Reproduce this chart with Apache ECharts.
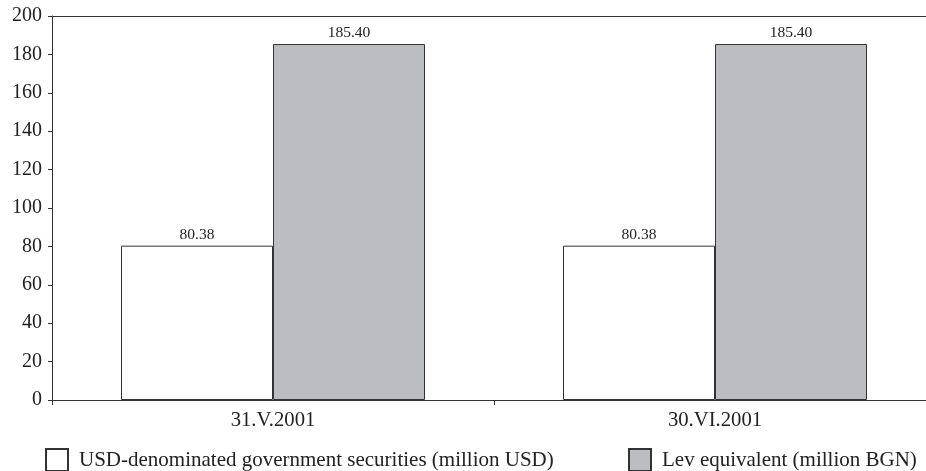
<!DOCTYPE html>
<html><head><meta charset="utf-8">
<script src="https://cdn.jsdelivr.net/npm/echarts@6/dist/echarts.min.js"></script>
<style>html,body{margin:0;padding:0;background:#fff;overflow:hidden}#c{width:1000px;height:471px}</style>
</head><body><div id="c"></div>
<script>
const categories = ['31.V.2001', '30.VI.2001'];
const usdValues = [80.38, 80.38];
const levValues = [185.40, 185.40];
const seriesNames = ['USD-denominated government securities (million USD)', 'Lev equivalent (million BGN)'];
const yMin = 0, yMax = 200, yStep = 20;

const font = 'Liberation Serif';
const legendText = {fontFamily: font, fontSize: 21, color: '#222', padding: [0, 0, 0, 6]};
const chart = echarts.init(document.getElementById('c'), null, {renderer: 'canvas'});
chart.setOption({
  animation: false,
  textStyle: {fontFamily: font},
  grid: {left: 52, top: 16, bottom: 71, right: 64, show: false, outerBoundsMode: 'none'},
  legend: [
    {data: [seriesNames[0]], left: 45, top: 448, padding: 0, icon: 'rect', itemWidth: 22, itemHeight: 22, itemGap: 10, textStyle: legendText},
    {data: [seriesNames[1]], left: 628, top: 448, padding: 0, icon: 'rect', itemWidth: 22, itemHeight: 22, itemGap: 10, textStyle: legendText}
  ],
  xAxis: [{
    type: 'category', data: categories,
    axisLine: {lineStyle: {color: '#333', width: 1}},
    axisTick: {show: true, length: 5, lineStyle: {color: '#333'}},
    axisLabel: {fontFamily: font, fontSize: 20.7, color: '#222', margin: 10}
  }, {
    type: 'category', data: categories, position: 'top',
    axisLine: {show: true, lineStyle: {color: '#333', width: 1}},
    axisTick: {show: false}, axisLabel: {show: false}
  }],
  yAxis: {
    type: 'value', min: yMin, max: yMax, interval: yStep,
    axisLine: {show: true, lineStyle: {color: '#333', width: 1}},
    axisTick: {show: true, length: 4, lineStyle: {color: '#333'}},
    splitLine: {show: false},
    axisLabel: {fontFamily: font, fontSize: 20, color: '#222', margin: 10}
  },
  series: [
    {name: seriesNames[0], type: 'bar', data: usdValues, barWidth: 152, barGap: '0%',
     itemStyle: {color: '#ffffff', borderColor: '#333', borderWidth: 1},
     label: {show: true, position: 'top', distance: 3, formatter: p => p.value.toFixed(2), fontFamily: font, fontSize: 15.5, color: '#222'}},
    {name: seriesNames[1], type: 'bar', data: levValues, barWidth: 152, barGap: '0%',
     itemStyle: {color: '#bcbdc1', borderColor: '#333', borderWidth: 1},
     label: {show: true, position: 'top', distance: 3, formatter: p => p.value.toFixed(2), fontFamily: font, fontSize: 15.5, color: '#222'}}
  ]
});
</script></body></html>
